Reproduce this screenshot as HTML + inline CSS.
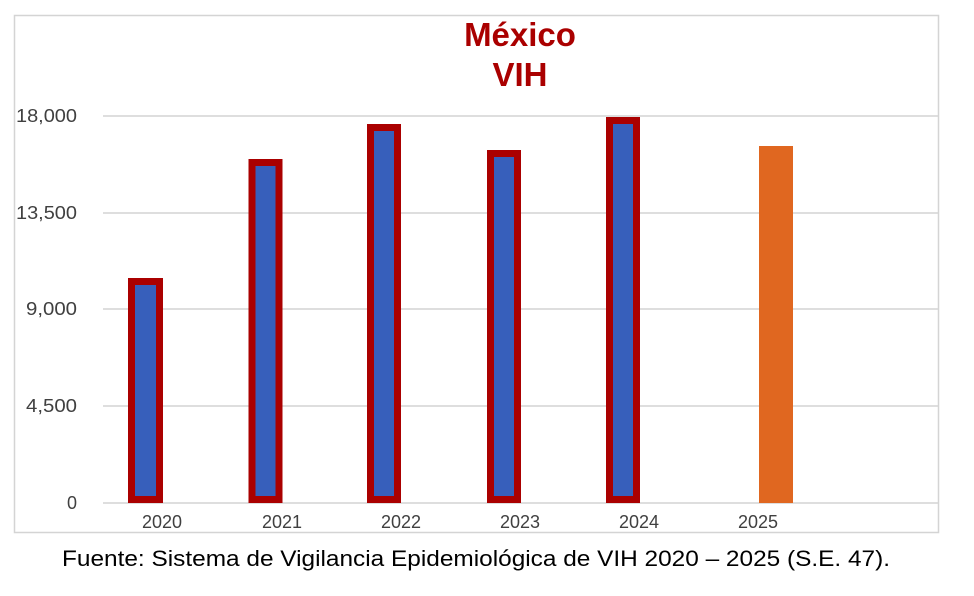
<!DOCTYPE html>
<html><head><meta charset="utf-8"><style>
body{margin:0;background:#fff;}
</style></head><body>
<svg width="974" height="596" xmlns="http://www.w3.org/2000/svg" style="display:block">
<rect x="14.5" y="15.5" width="924" height="517" fill="#fff" stroke="#d4d4d4" stroke-width="1.5"/>
<g stroke="#d4d4d4" stroke-width="1.5">
<line x1="103" y1="116" x2="938" y2="116"/>
<line x1="103" y1="213" x2="938" y2="213"/>
<line x1="103" y1="309" x2="938" y2="309"/>
<line x1="103" y1="406" x2="938" y2="406"/>
<line x1="103" y1="503" x2="938" y2="503"/>
</g>
<g font-family="Liberation Sans, sans-serif" font-size="18" fill="#404040" text-anchor="end">
<text x="77" y="122" textLength="61" lengthAdjust="spacingAndGlyphs">18,000</text>
<text x="77" y="219" textLength="61" lengthAdjust="spacingAndGlyphs">13,500</text>
<text x="77" y="315" textLength="51" lengthAdjust="spacingAndGlyphs">9,000</text>
<text x="77" y="412" textLength="51" lengthAdjust="spacingAndGlyphs">4,500</text>
<text x="77" y="509">0</text>
</g>
<g fill="#375fbb" stroke="#aa0000" stroke-width="7">
<rect x="131.5" y="281.5" width="28" height="218"/>
<rect x="252" y="162.5" width="27" height="337"/>
<rect x="370.5" y="127.5" width="27" height="372"/>
<rect x="490.5" y="153.5" width="27" height="346"/>
<rect x="609.5" y="120.5" width="27" height="379"/>
</g>
<rect x="759" y="146" width="34" height="357" fill="#e06720"/>
<g font-family="Liberation Sans, sans-serif" font-size="18" fill="#404040" text-anchor="middle">
<text x="162" y="528">2020</text>
<text x="282" y="528">2021</text>
<text x="401" y="528">2022</text>
<text x="520" y="528">2023</text>
<text x="639" y="528">2024</text>
<text x="758" y="528">2025</text>
</g>
<g font-family="Liberation Sans, sans-serif" font-size="33" font-weight="bold" fill="#aa0000" text-anchor="middle">
<text x="520" y="46">México</text>
<text x="520" y="86">VIH</text>
</g>
<text x="62" y="566" font-family="Liberation Sans, sans-serif" font-size="22" fill="#000" textLength="828" lengthAdjust="spacingAndGlyphs">Fuente: Sistema de Vigilancia Epidemiológica de VIH 2020 – 2025 (S.E. 47).</text>
</svg>
</body></html>
